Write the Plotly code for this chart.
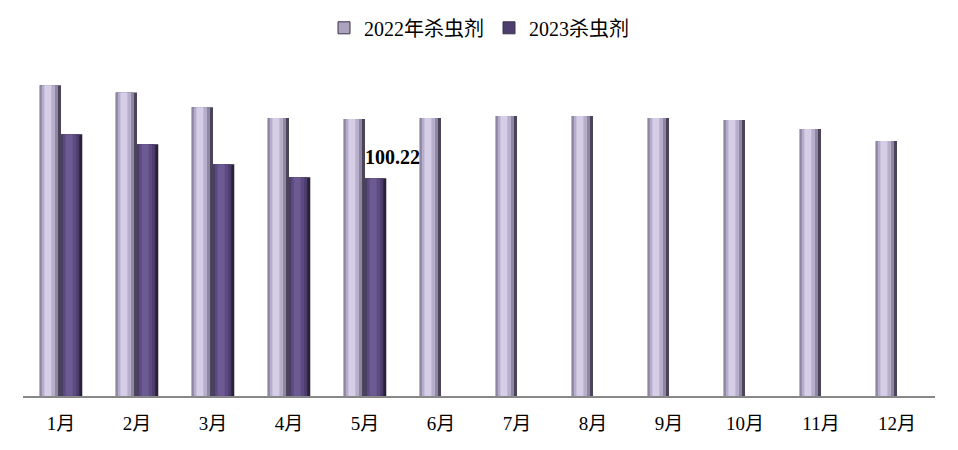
import plotly.graph_objects as go

months = ["1月", "2月", "3月", "4月", "5月", "6月", "7月", "8月", "9月", "10月", "11月", "12月"]
series_2022_name = "2022年杀虫剂"
series_2023_name = "2023杀虫剂"
values_2022 = [143.0, 139.7, 132.9, 127.9, 127.4, 127.9, 128.8, 128.8, 127.9, 127.0, 122.8, 117.3]
values_2023 = [120.4, 115.8, 106.6, 100.7, 100.22]
label_value = 100.22

BAR_W = 0.28
# shading layers: (start fraction, end fraction, color)
layers_2022 = [(0.0, 1.0, "#4a4458"), (0.0, 0.86, "#8e86a2"), (0.1, 0.72, "#b6aeca"), (0.22, 0.55, "#d6cee6")]
layers_2023 = [(0.0, 1.0, "#2a2038"), (0.0, 0.86, "#4c3c6c"), (0.1, 0.72, "#5c4a80"), (0.22, 0.55, "#6c5a92")]
legend_color_2022 = "#aaa2be"
legend_color_2023 = "#4e3e6e"

fig = go.Figure()


def add_series(x, y, left, layers, name, legend_color):
    for i, (a, b, c) in enumerate(layers):
        fig.add_trace(go.Bar(
            x=x, y=y, name=name,
            offset=left + a * BAR_W, width=(b - a) * BAR_W,
            marker=dict(color=c, line=dict(width=0)),
            showlegend=False, hoverinfo="skip" if i else None,
            legendgroup=name,
        ))
    # legend entry
    fig.add_trace(go.Bar(
        x=[None], y=[None], name=name, legendgroup=name,
        marker=dict(color=legend_color, line=dict(color="#3a3448", width=1)),
        showlegend=True,
    ))


add_series(months, values_2022, -BAR_W, layers_2022, series_2022_name, legend_color_2022)
add_series(months[:len(values_2023)], values_2023, 0.0, layers_2023, series_2023_name, legend_color_2023)

fig.add_annotation(
    x=months[len(values_2023) - 1], y=label_value,
    text="<b>%.2f</b>" % label_value, showarrow=False,
    xshift=27, yshift=21, yanchor="middle",
    font=dict(family="Liberation Serif", size=20, color="#000000"),
)

fig.update_layout(
    width=958, height=450,
    barmode="overlay",
    plot_bgcolor="white", paper_bgcolor="white",
    margin=dict(l=15, r=31, t=62, b=62),
    font=dict(family="Liberation Serif, Noto Sans CJK SC", size=19, color="#000000"),
    legend=dict(orientation="h", x=0.5, xanchor="center", y=0.956, yanchor="middle",
                yref="container", font=dict(size=20)),
    showlegend=True,
    xaxis=dict(type="category", categoryorder="array", categoryarray=months,
               range=[-0.5, 11.5], showline=True, linecolor="#888888", linewidth=2,
               ticks="outside", ticklen=9, tickcolor="rgba(0,0,0,0)",
               showgrid=False, zeroline=False, fixedrange=True),
    yaxis=dict(range=[0, 150], visible=False, showgrid=False, zeroline=False),
)

fig.write_html("out.html")
